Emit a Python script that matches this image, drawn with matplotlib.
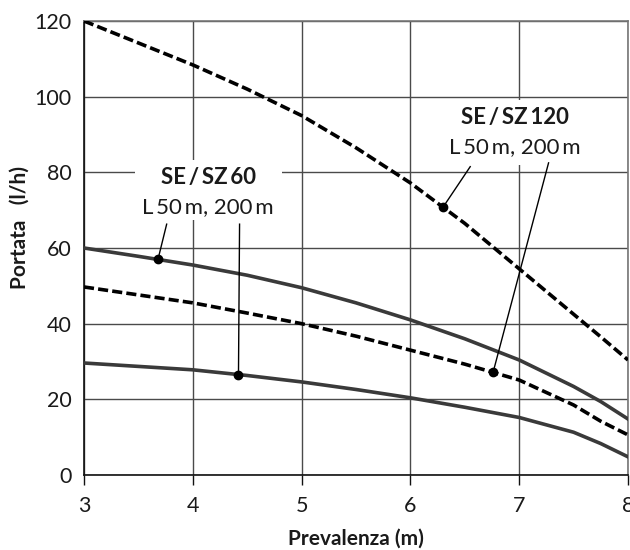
"""Portata vs prevalenza, SE/SZ60 e SE/SZ120 (L 50 m, 200 m)."""
import matplotlib

matplotlib.use("Agg")
import matplotlib.pyplot as plt  # noqa: E402
import numpy as np  # noqa: E402
from matplotlib.patches import Rectangle  # noqa: E402

# dati
prevalenza = [3, 3.5, 4, 4.5, 5, 5.5, 6, 6.5, 7, 7.5, 7.75, 8]
sz120_50m = [120, 114.2, 108.4, 102, 95, 86.5, 77.2, 66.5, 54.5, 42.5, 36.5, 30.4]
sz120_200m = [49.7, 47.6, 45.5, 42.8, 40, 36.7, 33.0, 29.3, 25.1, 18.5, 14.2, 10.6]
sz60_50m = [60, 57.8, 55.5, 52.8, 49.5, 45.5, 41.0, 36.0, 30.4, 23.4, 19.4, 14.8]
sz60_200m = [29.6, 28.7, 27.8, 26.3, 24.6, 22.6, 20.4, 17.9, 15.2, 11.3, 8.3, 4.8]
x_ticks = [3, 4, 5, 6, 7, 8]
y_ticks = [0, 20, 40, 60, 80, 100, 120]

TS = "\u2009"  # spazio sottile
plt.rcParams.update({"font.family": ["Lato", "DejaVu Sans"]})

SOLID = "#3a3a3a"
GRID = "#4a4a4a"
TXT = "#1a1a1a"

fig = plt.figure(figsize=(6.3, 5.5), dpi=100)
ax = fig.add_axes([0.1333, 0.1364, 0.8635, 0.8254])

ax.set_xlim(3, 8)
ax.set_ylim(0, 120)
ax.set_xticks(x_ticks)
ax.set_yticks(y_ticks)
ax.grid(True, color=GRID, linewidth=1.0)
ax.set_axisbelow(True)
for side in ("top", "right"):
    ax.spines[side].set_color("#777777")
    ax.spines[side].set_linewidth(1.2)
for side in ("left", "bottom"):
    ax.spines[side].set_color("#111111")
    ax.spines[side].set_linewidth(1.2)
ax.tick_params(axis="x", length=7, width=1.0, color="#111111", labelsize=15.5,
               labelcolor=TXT, pad=8)
ax.tick_params(axis="y", length=0, labelsize=15.5, labelcolor=TXT, pad=9)

lw = 2.6
ax.plot(prevalenza, sz60_50m, color=SOLID, linewidth=lw, zorder=3)
ax.plot(prevalenza, sz60_200m, color=SOLID, linewidth=lw, zorder=3)
for ys in (sz120_50m, sz120_200m):
    ln, = ax.plot(prevalenza, ys, color="black", linewidth=lw, zorder=3)
    ln.set_dashes((2.8, 1.15))

# riquadri bianchi dietro le etichette (interrompono la griglia)
ax.add_patch(Rectangle((3.47, 67.4), 1.35, 15.9, facecolor="white",
                       edgecolor="none", zorder=1))
ax.add_patch(Rectangle((6.26, 82.0), 1.38, 17.2, facecolor="white",
                       edgecolor="none", zorder=1))

ax.text(4.14, 78.6, f"SE{TS}/{TS}SZ{TS}60", ha="center", va="center",
        fontsize=16, fontweight="bold", color=TXT, zorder=4)
ax.text(4.14, 70.8, f"L{TS}50{TS}m, 200{TS}m", ha="center", va="center",
        fontsize=16, color=TXT, zorder=4)
ax.text(6.96, 94.4, f"SE{TS}/{TS}SZ{TS}120", ha="center", va="center",
        fontsize=16, fontweight="bold", color=TXT, zorder=4)
ax.text(6.96, 86.6, f"L{TS}50{TS}m, 200{TS}m", ha="center", va="center",
        fontsize=16, color=TXT, zorder=4)


def leader(curve, x_dot, x_end, y_end):
    y_dot = np.interp(x_dot, prevalenza, curve)
    ax.plot([x_dot, x_end], [y_dot, y_end], color="black", linewidth=1.0,
            zorder=4)
    ax.plot(x_dot, y_dot, "o", color="black", markersize=6, zorder=5)


leader(sz60_50m, 3.68, 3.76, 66.3)
leader(sz60_200m, 4.42, 4.43, 66.3)
leader(sz120_50m, 6.30, 6.55, 81.5)
leader(sz120_200m, 6.76, 7.27, 82.5)

ax.set_xlabel("Prevalenza (m)", fontsize=15, fontweight="bold", color=TXT,
              labelpad=9)
ax.set_ylabel("Portata   (l/h)", fontsize=15, fontweight="bold", color=TXT)
ax.yaxis.set_label_coords(-0.1, 0.545)

fig.savefig("out.png", dpi=100)
